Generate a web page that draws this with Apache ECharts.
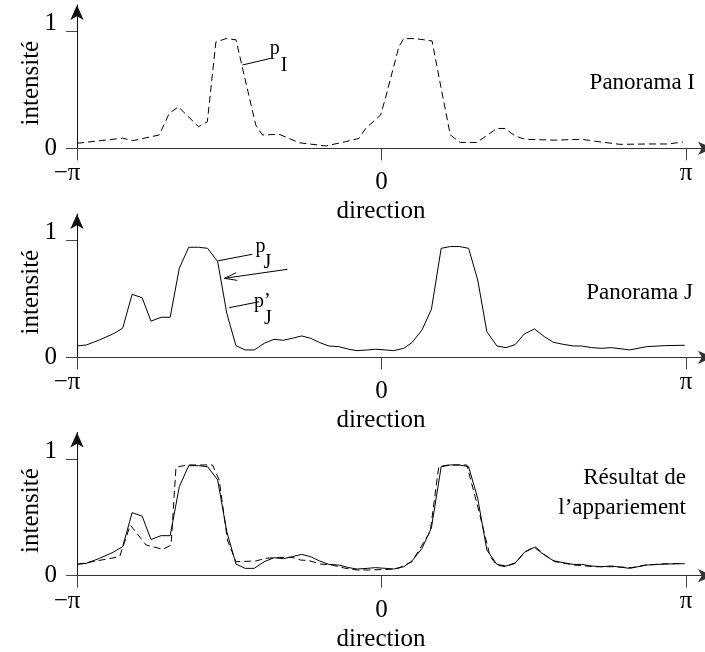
<!DOCTYPE html>
<html><head><meta charset="utf-8">
<script src="https://cdn.jsdelivr.net/npm/echarts@6/dist/echarts.min.js"></script>
<style>html,body{margin:0;padding:0;background:#fff}#c{width:705px;height:652px}</style>
</head><body><div id="c"></div>
<script>
// direction in units of pi, intensity
const xI = [-1.000,-0.850,-0.818,-0.730,-0.697,-0.667,-0.601,-0.572,-0.544,-0.511,-0.478,-0.413,-0.391,-0.336,-0.271,-0.183,-0.118,-0.074,-0.052,-0.003,0.013,0.057,0.073,0.111,0.166,0.193,0.226,0.259,0.313,0.379,0.406,0.439,0.472,0.570,0.657,0.712,0.783,0.875,0.941,0.990];
const yI = [0.043,0.087,0.065,0.114,0.300,0.355,0.185,0.227,0.910,0.940,0.930,0.200,0.114,0.120,0.048,0.020,0.057,0.085,0.170,0.285,0.430,0.870,0.940,0.940,0.920,0.555,0.114,0.050,0.050,0.170,0.170,0.105,0.077,0.070,0.077,0.057,0.034,0.037,0.037,0.054];
const xJ = [-1.000,-0.969,-0.926,-0.882,-0.850,-0.819,-0.786,-0.757,-0.724,-0.694,-0.664,-0.633,-0.601,-0.571,-0.538,-0.508,-0.478,-0.448,-0.418,-0.385,-0.353,-0.322,-0.293,-0.262,-0.233,-0.203,-0.173,-0.140,-0.107,-0.080,-0.047,-0.020,0.013,0.040,0.073,0.100,0.133,0.164,0.196,0.226,0.256,0.286,0.316,0.346,0.379,0.409,0.439,0.469,0.502,0.535,0.564,0.597,0.630,0.657,0.690,0.722,0.755,0.815,0.870,0.930,0.996];
const yJ = [0.097,0.106,0.149,0.200,0.249,0.540,0.510,0.310,0.343,0.343,0.763,0.943,0.943,0.934,0.820,0.377,0.100,0.063,0.063,0.120,0.154,0.146,0.163,0.183,0.163,0.126,0.097,0.091,0.069,0.057,0.063,0.069,0.063,0.057,0.077,0.126,0.234,0.411,0.934,0.949,0.949,0.934,0.663,0.220,0.097,0.083,0.109,0.200,0.243,0.177,0.129,0.111,0.097,0.097,0.083,0.077,0.083,0.063,0.091,0.100,0.103];
const xM = [-1.000,-0.937,-0.860,-0.825,-0.773,-0.718,-0.691,-0.675,-0.637,-0.555,-0.533,-0.506,-0.478,-0.413,-0.380,-0.336,-0.293,-0.265,-0.238,-0.200,-0.162,-0.118,-0.080,-0.042,0.024,0.057,0.100,0.160,0.188,0.220,0.280,0.319,0.357,0.379,0.406,0.439,0.472,0.504,0.537,0.570,0.635,0.701,0.766,0.821,0.865,0.919,0.990];
const yM = [0.097,0.126,0.163,0.434,0.263,0.226,0.263,0.929,0.949,0.949,0.820,0.306,0.120,0.126,0.149,0.157,0.157,0.134,0.129,0.100,0.091,0.063,0.049,0.049,0.054,0.066,0.120,0.377,0.934,0.949,0.949,0.563,0.163,0.091,0.077,0.106,0.206,0.249,0.177,0.120,0.091,0.077,0.077,0.069,0.091,0.100,0.106];
const xTickValues = [-1, 0, 1];
const xTickLabels = ['−π', '0', 'π'];
const yTickValues = [0, 1];
const panelTitles = [['Panorama I'], ['Panorama J'], ['Résultat de', 'l’appariement']];

const FONT = 'Liberation Serif';
const zip = (xs, ys) => xs.map((x, i) => [x, ys[i]]);
const chart = echarts.init(document.getElementById('c'), null, {renderer: 'canvas'});
const panels = [{top: 5}, {top: 214}, {top: 432.4}];
const H = 143.3;
const titlePos = [{right: 10, top: [71.5]}, {right: 12, top: [281.5]}, {right: 19, top: [466.5, 496.5]}];

const grids = panels.map(p => ({left: 77, width: 636, top: p.top, height: H, containLabel: false, outerBoundsMode: 'none'}));
const xAxes = panels.map((p, i) => ({
  type: 'value', gridIndex: i, min: -1, max: 1.0887,
  axisLine: {show: true, onZero: false, symbol: ['none', 'arrow'], symbolSize: [10, 15], lineStyle: {color: '#333', width: 1}},
  axisTick: {show: true, customValues: xTickValues, length: 12, lineStyle: {color: '#444'}},
  axisLabel: {
    customValues: xTickValues, margin: 13, color: '#000', fontFamily: FONT, fontSize: 25,
    formatter: v => { const k = xTickValues.indexOf(v); const t = xTickLabels[k];
      return v === 0 ? '{z|' + t + '}' : (v < 0 ? '{m|' + t + '}' : '{p|' + t + '}'); },
    rich: {
      z: {fontFamily: FONT, fontSize: 25, color: '#000', padding: [9, 0, 0, 0]},
      m: {fontFamily: FONT, fontSize: 25, color: '#000', padding: [0, 20, 0, 0]},
      p: {fontFamily: FONT, fontSize: 25, color: '#000'}
    }
  },
  splitLine: {show: false},
  name: 'direction', nameLocation: 'middle', nameGap: 51, nameMoveOverlap: false,
  nameTextStyle: {fontFamily: FONT, fontSize: 25, color: '#000', padding: [0, 28, 0, 0]}
}));
const yAxes = panels.map((p, i) => ({
  type: 'value', gridIndex: i, min: 0, max: 1.228,
  axisLine: {show: true, onZero: false, symbol: ['none', 'arrow'], symbolSize: [10, 15], lineStyle: {color: '#111', width: 1}},
  axisTick: {show: true, customValues: yTickValues, length: 11, lineStyle: {color: '#444'}},
  axisLabel: {
    customValues: yTickValues, margin: 20, color: '#000', fontFamily: FONT, fontSize: 25,
    formatter: v => v === 1 ? '{o|1}' : '{z|0}',
    rich: {
      o: {fontFamily: FONT, fontSize: 25, color: '#000', padding: [0, 0, 16, 0]},
      z: {fontFamily: FONT, fontSize: 25, color: '#000'}
    }
  },
  splitLine: {show: false},
  name: 'intensité', nameLocation: 'middle', nameGap: 33, nameMoveOverlap: false,
  nameTextStyle: {fontFamily: FONT, fontSize: 25, color: '#000', padding: [0, 13, 0, 0]}
}));
const lineBase = {type: 'line', showSymbol: false, symbol: 'none', smooth: false, animation: false, silent: true};
const series = [
  Object.assign({}, lineBase, {xAxisIndex: 0, yAxisIndex: 0, data: zip(xI, yI), lineStyle: {color: '#000', width: 1, type: [7, 4]}}),
  Object.assign({}, lineBase, {xAxisIndex: 1, yAxisIndex: 1, data: zip(xJ, yJ), lineStyle: {color: '#000', width: 1}}),
  Object.assign({}, lineBase, {xAxisIndex: 2, yAxisIndex: 2, data: zip(xJ, yJ), lineStyle: {color: '#000', width: 1}}),
  Object.assign({}, lineBase, {xAxisIndex: 2, yAxisIndex: 2, data: zip(xM, yM), lineStyle: {color: '#000', width: 1, type: [7, 4]}})
];
const titles = [];
panelTitles.forEach((lines, i) => lines.forEach((t, j) => titles.push({
  text: t, right: titlePos[i].right, top: titlePos[i].top[j], padding: 0,
  textStyle: {fontFamily: FONT, fontSize: 23, fontWeight: 'normal', color: '#000'}
})));
chart.setOption({animation: false, backgroundColor: '#fff', title: titles, grid: grids, xAxis: xAxes, yAxis: yAxes, series: series});

// annotations anchored in data coordinates
const annotations = [
  {grid: 0, leader: [[-0.4565, 0.714], [-0.3635, 0.771]], texts: [{t: 'p', dx: -1, dy: -10}, {t: 'I', dx: 10, dy: 7}]},
  {grid: 1, leader: [[-0.538, 0.826], [-0.424, 0.883]], texts: [{t: 'p', dx: 3, dy: -8}, {t: 'J', dx: 11, dy: 8}]},
  {grid: 1, leader: [[-0.500, 0.425], [-0.402, 0.476]], texts: [{t: 'p’', dx: -5, dy: 0}, {t: 'J', dx: 5, dy: 17}]}
];
const arrowAnn = {grid: 1, from: [-0.309, 0.754], to: [-0.516, 0.677]};
const g = [];
annotations.forEach(a => {
  const p0 = chart.convertToPixel({gridIndex: a.grid}, a.leader[0]);
  const p1 = chart.convertToPixel({gridIndex: a.grid}, a.leader[1]);
  g.push({type: 'line', shape: {x1: p0[0], y1: p0[1], x2: p1[0], y2: p1[1]}, style: {stroke: '#000', lineWidth: 1}, silent: true});
  a.texts.forEach(tx => g.push({type: 'text', x: p1[0] + tx.dx, y: p1[1] + tx.dy, silent: true,
    style: {text: tx.t, fill: '#000', fontFamily: FONT, fontSize: 20, align: 'left', verticalAlign: 'middle'}}));
});
{
  const a = chart.convertToPixel({gridIndex: arrowAnn.grid}, arrowAnn.from);
  const b = chart.convertToPixel({gridIndex: arrowAnn.grid}, arrowAnn.to);
  const ang = Math.atan2(a[1] - b[1], a[0] - b[0]);
  const L = 13, da = 0.3;
  g.push({type: 'line', shape: {x1: a[0], y1: a[1], x2: b[0], y2: b[1]}, style: {stroke: '#000', lineWidth: 1}, silent: true});
  g.push({type: 'polyline', shape: {points: [
    [b[0] + L * Math.cos(ang + da), b[1] + L * Math.sin(ang + da)], b,
    [b[0] + L * Math.cos(ang - da), b[1] + L * Math.sin(ang - da)]]}, style: {stroke: '#000', lineWidth: 1, fill: null}, silent: true});
}
chart.setOption({graphic: g});
</script></body></html>
